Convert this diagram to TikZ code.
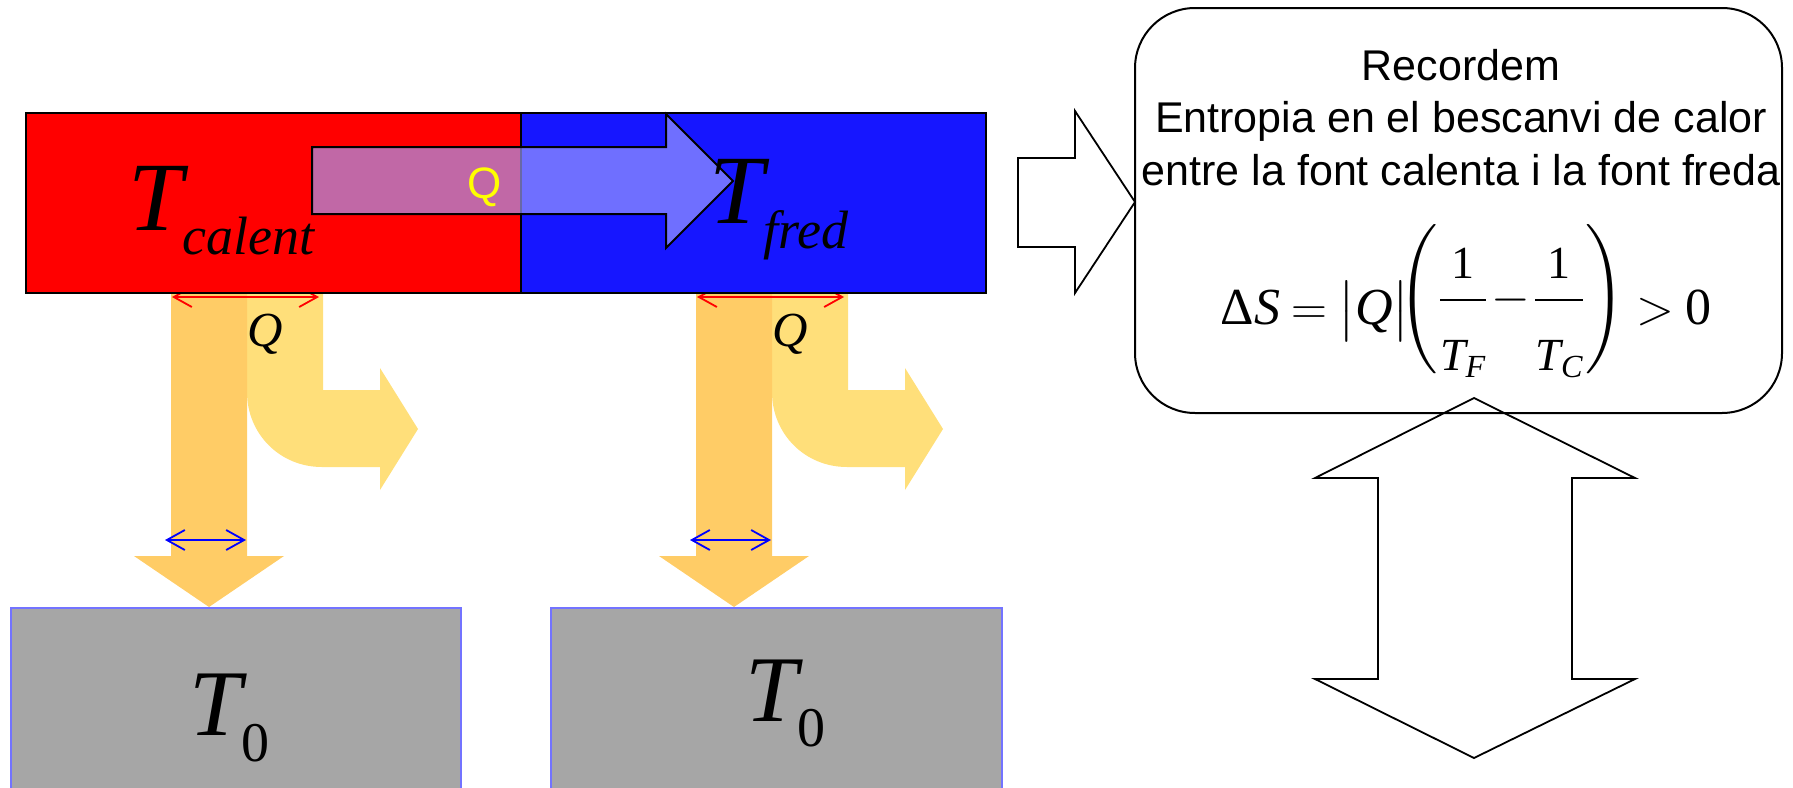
\documentclass[tikz,border=0pt]{standalone}
\usepackage{amsmath}
\usepackage{mathspec}
\setmainfont{Liberation Sans}
\setmathsfont(Digits,Latin,Greek){Liberation Serif}
\newfontfamily\tnr{Liberation Serif}
\usetikzlibrary{arrows.meta}

\definecolor{hotred}{RGB}{255,0,0}
\definecolor{coldblue}{RGB}{22,22,255}
\definecolor{flowdark}{RGB}{255,204,102}
\definecolor{flowlight}{RGB}{255,223,122}
\definecolor{groundgray}{RGB}{166,166,166}
\definecolor{groundline}{RGB}{115,115,255}
\definecolor{qfill}{RGB}{160,160,255}
\definecolor{qyellow}{RGB}{255,255,0}

% big italic T with a lowered subscript
\newcommand{\Tsub}[4]{{\fontsize{#1}{#1}\selectfont\tnr\itshape T}\raisebox{-#3}{\fontsize{#2}{#2}\selectfont\tnr\itshape #4}}

\tikzset{
  reservoir/.style={draw=black, line width=1pt, inner sep=0pt, minimum height=90pt},
  ground/.style={draw=groundline, fill=groundgray, line width=0.8pt, inner sep=0pt, minimum height=100pt},
  note/.style={draw=black, line width=1pt, rounded corners=30pt, inner sep=0pt},
  symb/.style={inner sep=0pt, anchor=base west},
  notetext/.style={inner sep=0pt, anchor=base, font=\fontsize{21.5}{24}\selectfont},
  span/.style={<->, >={Straight Barb[length=9pt,width=10pt]}, line width=0.9pt},
  outline/.style={draw=black, line width=0.9pt},
  qarrow/.style={draw=black, line width=1pt, fill=qfill, fill opacity=0.65}
}

\begin{document}
\begin{tikzpicture}[x=0.5pt, y=-0.5pt]
  \useasboundingbox (0,0) rectangle (1793,787);

  % heat leaving each reservoir
  \foreach \dx/\k in {0/1,525/2}{
    \fill[flowlight] (245+\dx,293) -- (323+\dx,293) -- (323+\dx,390) -- (380+\dx,390) -- (380+\dx,368)
      -- (418+\dx,429) -- (380+\dx,490) -- (380+\dx,467) -- (322+\dx,467)
      .. controls (280+\dx,467) and (247+\dx,434) .. (247+\dx,392) -- cycle;
    \fill[flowdark] (171+\dx,293) -- (247+\dx,293) -- (247+\dx,556) -- (284+\dx,556)
      -- (209+\dx,607) -- (134+\dx,556) -- (171+\dx,556) -- cycle;
    \coordinate (in\k-a) at (172+\dx,297);
    \coordinate (in\k-b) at (319+\dx,297);
    \coordinate (out\k-a) at (165+\dx,540);
    \coordinate (out\k-b) at (246+\dx,540);
    \draw[span, hotred] (in\k-a) -- (in\k-b);
    \draw[span, blue] (out\k-a) -- (out\k-b);
    \node[symb, anchor=base] (q\k) at (265+\dx,346) {\fontsize{24.5}{24.5}\selectfont$Q$};
  }

  % the two sources
  \node[reservoir, fill=hotred, minimum width=247.5pt] (hot) at (273.5,203) {};
  \node[reservoir, fill=coldblue, minimum width=232.5pt] (cold) at (753.5,203) {};
  \draw[qarrow] (312,147) -- (666,147) -- (666,114) -- (733,181) -- (666,248) -- (666,214) -- (312,214) -- cycle;
  \node[symb, anchor=base, text=qyellow, font=\fontsize{22}{22}\selectfont] (qflow) at (485,198) {Q};
  \node[symb] (tcalent) at (128,230) {\Tsub{49}{27}{12pt}{calent}};
  \node[symb] (tfred) at (709,223) {\Tsub{49}{27}{12.5pt}{fred}};

  % surroundings
  \node[ground, minimum width=225pt] (sink1) at (236,708) {};
  \node[ground, minimum width=225.5pt] (sink2) at (776.5,708) {};
  \node[symb] (t0a) at (189,735) {\Tsub{47}{28}{13pt}{\upshape 0}};
  \node[symb] (t0b) at (745,721) {\Tsub{47}{28}{12.5pt}{\upshape 0}};

  % reminder
  \node[note, minimum width=323.5pt, minimum height=202.5pt] (recall) at (1458.5,210.5) {};
  \node[notetext] (rec1) at (1461,80) {Recordem};
  \node[notetext] (rec2) at (1461,132) {Entropia en el bescanvi de calor};
  \node[notetext] (rec3) at (1461,185) {entre la font calenta i la font freda};
  \node[symb, font=\fontsize{26}{26}\selectfont] (dS) at (1220,324)
    {\thickmuskip=4mu$\Delta S=\bigl|Q\bigr|\mskip-4mu\raisebox{6pt}{\fontsize{23}{23}\selectfont\medmuskip=1mu$\displaystyle\left(\frac{1}{\rule{0pt}{32pt}T_F}-\frac{1}{\rule{0pt}{32pt}T_C}\right)$}>0$};

  \draw[outline] (1018,158) -- (1075,158) -- (1075,111) -- (1135,202) -- (1075,293) -- (1075,247) -- (1018,247) -- cycle;
  \draw[outline] (1474,398) -- (1635,478) -- (1572,478) -- (1572,679) -- (1635,679) -- (1474,758)
    -- (1315,679) -- (1378,679) -- (1378,478) -- (1315,478) -- cycle;
\end{tikzpicture}
\end{document}
